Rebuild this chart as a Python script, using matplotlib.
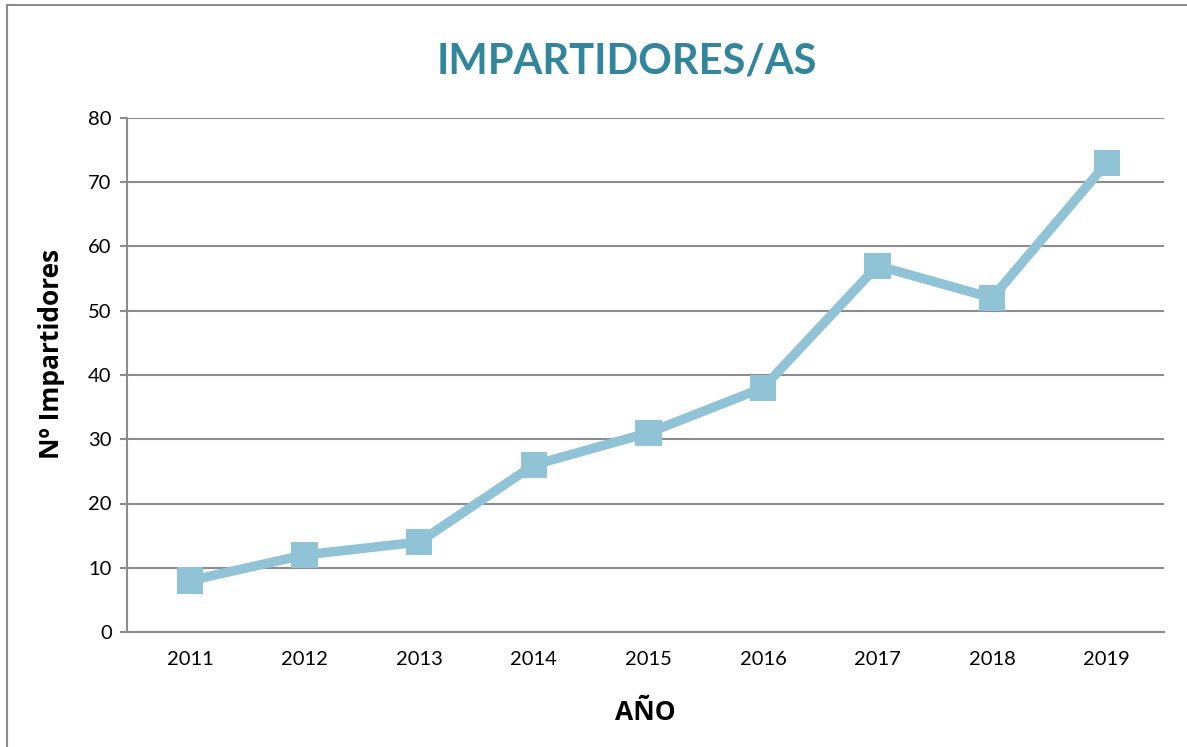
import matplotlib.pyplot as plt
import matplotlib.patheffects as pe
from matplotlib.patches import Rectangle

# data
years = ['2011', '2012', '2013', '2014', '2015', '2016', '2017', '2018', '2019']
impartidores = [8, 12, 14, 26, 31, 38, 57, 52, 73]
y_ticks = [0, 10, 20, 30, 40, 50, 60, 70, 80]

line_color = '#8fc3d5'
grid_color = '#8c8c8c'

plt.rcParams['font.family'] = ['Lato', 'DejaVu Sans']

fig = plt.figure(figsize=(11.87, 7.47), dpi=100)
ax = fig.add_axes([127 / 1187, 1 - 632 / 747, (1164 - 127) / 1187, (632 - 118) / 747])

# outer chart border
fig.patches.append(Rectangle((7 / 1187, -0.01), 1.1, 1 - 5 / 747 + 0.01, transform=fig.transFigure,
                             fill=False, edgecolor='#8c8c8c', linewidth=1.5))

x = range(len(years))
shadow = [pe.SimpleLineShadow(offset=(2, -2), shadow_color='#555555', alpha=0.35), pe.Normal()]
ax.plot(x, impartidores, color=line_color, linewidth=6.8, solid_joinstyle='round', zorder=3)
ax.plot(x, impartidores, linestyle='none', marker='s', markersize=19, color=line_color,
        markeredgewidth=0, zorder=4, path_effects=shadow)

ax.set_xlim(-0.55, len(years) - 0.5)
ax.set_ylim(0, 80)
ax.set_xticks(list(x))
ax.set_xticklabels(years)
ax.set_yticks(y_ticks)
ax.tick_params(axis='x', length=0, labelsize=14.5, pad=14)
ax.tick_params(axis='y', length=5, width=1.5, color=grid_color, labelsize=14.5, pad=6)

ax.yaxis.grid(True, color=grid_color, linewidth=1.5)
ax.set_axisbelow(True)
for side in ['top', 'right']:
    ax.spines[side].set_visible(False)
for side in ['left', 'bottom']:
    ax.spines[side].set_color(grid_color)
    ax.spines[side].set_linewidth(1.5)

ax.set_xlabel('AÑO', fontsize=19, fontweight='bold', labelpad=22, family=['Open Sans', 'DejaVu Sans'])
ax.set_ylabel('Nº Impartidores', fontsize=19, fontweight='bold',
              family=['Open Sans', 'DejaVu Sans'])
ax.yaxis.set_label_coords(-0.060, 0.541)
fig.text(627 / 1187, 1 - 62 / 747, 'IMPARTIDORES/AS', fontsize=30, fontweight='bold',
         color='#31859c', ha='center', va='center')

fig.savefig('out.png', dpi=100)
